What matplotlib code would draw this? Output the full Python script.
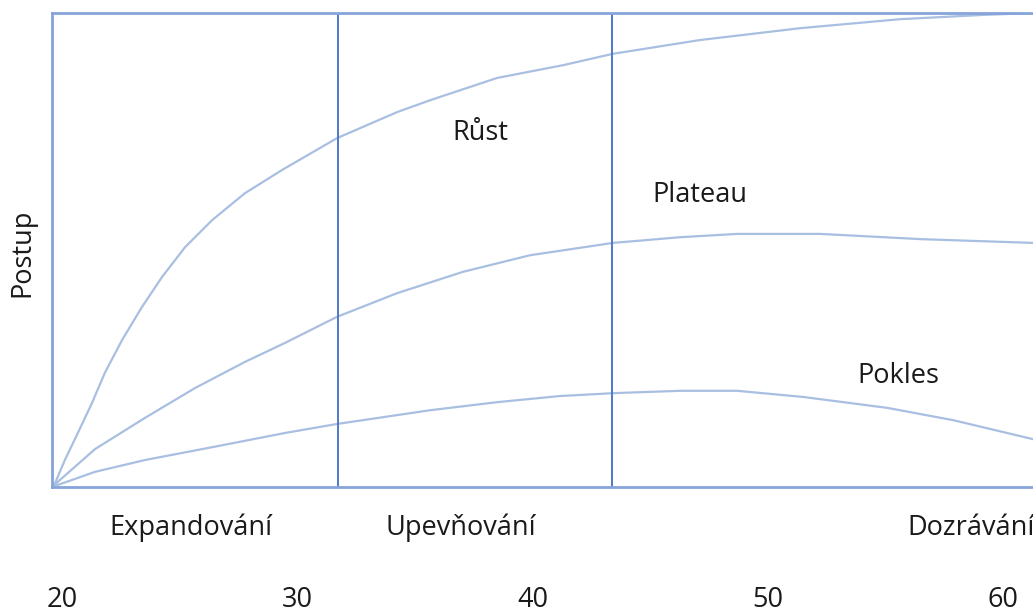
import numpy as np
import matplotlib
matplotlib.use("Agg")
import matplotlib.pyplot as plt
import matplotlib.transforms as mtransforms

plt.rcParams['font.family'] = ['Open Sans', 'DejaVu Sans']

# age (x) and progress (0-100)
rust_x = [19.55, 19.68, 20.10, 20.65, 21.25, 21.80, 22.53, 23.38, 24.23, 25.21, 26.36, 27.76, 29.34, 31.67,
          34.23, 35.63, 38.48, 41.29, 43.41, 47.11, 51.37, 55.62, 59.15, 61.27]
rust_y = [0, 0.8, 5.7, 11.4, 17.7, 24.1, 31.0, 38.0, 44.3, 50.6, 56.3, 62.0, 66.9, 73.6,
          79.1, 81.6, 86.3, 89.0, 91.4, 94.3, 96.8, 98.7, 99.6, 100]

plateau_x = [19.55, 21.38, 23.51, 25.64, 27.76, 29.46, 31.67, 34.23, 37.03, 39.88, 43.41, 46.26, 48.69,
             52.22, 56.48, 61.27]
plateau_y = [0, 8.0, 14.6, 20.9, 26.4, 30.4, 35.9, 40.9, 45.4, 48.9, 51.5, 52.7, 53.4,
             53.4, 52.3, 51.5]

pokles_x = [19.55, 21.38, 23.51, 26.36, 29.46, 31.67, 35.63, 38.48, 41.16, 43.41, 46.26, 48.69, 51.50,
            55.07, 57.88, 61.27]
pokles_y = [0, 3.2, 5.7, 8.4, 11.4, 13.3, 16.2, 17.9, 19.2, 19.8, 20.3, 20.3, 19.0,
            16.7, 14.1, 10.1]

phase_bounds = [31.71, 43.37]
phase_names = ["Expandování", "Upevňování", "Dozrávání"]
phase_x = [25.46, 36.95, 55.92]

curve_names = ["Růst", "Plateau", "Pokles"]
curve_label_x = [37.75, 47.11, 55.54]
curve_label_y = [74.7, 61.6, 23.4]

age_ticks = [20, 30, 40, 50, 60]

curve_color = '#a9bfe1'
frame_color = '#86a3da'
line_color = '#4f78c8'
text_color = '#1a1a1a'
fsize = 19.5

fig = plt.figure(figsize=(10.33, 6.14), dpi=100)
ax = fig.add_axes([0.0503, 0.2068, 0.9497, 0.772])

for xs, ys in [(rust_x, rust_y), (plateau_x, plateau_y), (pokles_x, pokles_y)]:
    ax.plot(xs, ys, color=curve_color, lw=1.6, solid_joinstyle='round')

for b in phase_bounds:
    ax.axvline(b, color=line_color, lw=1.4)

ax.set_xlim(19.55, 61.27)
ax.set_ylim(0, 100)

for side in ['left', 'top', 'bottom']:
    ax.spines[side].set_color(frame_color)
    ax.spines[side].set_linewidth(2)
ax.spines['right'].set_visible(False)

ax.set_yticks([])
ax.set_xticks(age_ticks)
ax.set_xticklabels([str(t) for t in age_ticks])
ax.tick_params(axis='x', length=0, pad=71, labelsize=fsize, labelcolor=text_color)

trans = mtransforms.blended_transform_factory(ax.transData, ax.transAxes)
for name, x in zip(phase_names, phase_x):
    ha = 'left' if name == "Dozrávání" else 'center'
    ax.text(x, -0.0865, name, transform=trans, ha=ha, va='center',
            fontsize=fsize, color=text_color, clip_on=False)

for name, x, y in zip(curve_names, curve_label_x, curve_label_y):
    ax.text(x, y, name, ha='center', va='center', fontsize=fsize, color=text_color)

fig.text(0.0213, 0.588, "Postup", rotation=90, ha='center', va='center',
         fontsize=fsize, color=text_color)

fig.savefig("out.png", dpi=100)
